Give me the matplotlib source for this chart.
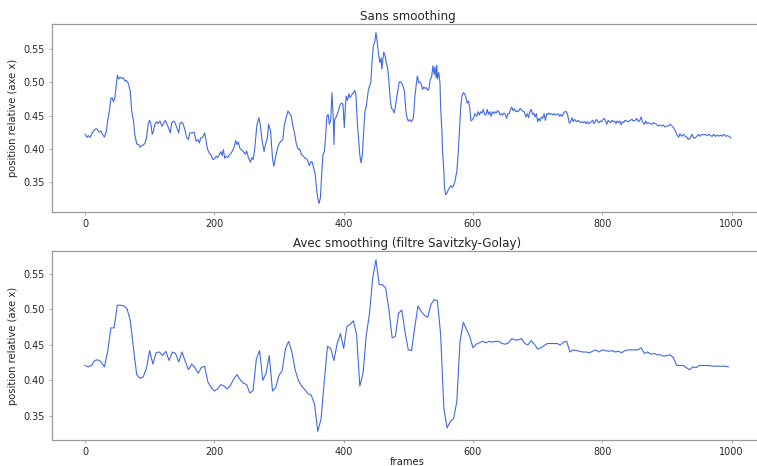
import matplotlib
matplotlib.use('Agg')
import matplotlib.pyplot as plt

# position x brute, frame par frame (relevé approximatif)
frames_raw = [0, 3, 5, 8, 10, 13, 16, 19, 22, 25, 27, 30, 33, 35, 38, 40, 42, 44, 46, 48,
              50, 52, 54, 57, 59, 62, 64, 67, 70, 72, 75, 77, 80, 83, 85, 88, 90, 93, 95, 98,
              100, 102, 104, 106, 108, 111, 113, 116, 119, 121, 124, 126, 129, 132, 134, 137, 139, 142, 145, 147,
              150, 152, 155, 157, 160, 162, 165, 169, 172, 175, 177, 179, 182, 185, 187, 189, 192, 195, 198, 200,
              203, 205, 208, 210, 212, 214, 216, 218, 221, 223, 226, 228, 231, 233, 235, 237, 240, 242, 245, 248,
              250, 253, 256, 258, 260, 262, 264, 266, 269, 271, 274, 277, 279, 282, 284, 287, 290, 292, 295, 298,
              300, 303, 306, 308, 311, 314, 316, 319, 321, 324, 327, 330, 332, 335, 338, 340, 343, 345, 347, 349,
              351, 353, 355, 356, 358, 360, 362, 364, 366, 368, 370, 372, 374, 376, 378, 380, 382, 384, 385, 386,
              388, 391, 393, 395, 397, 399, 401, 403, 404, 406, 408, 410, 413, 415, 417, 419, 421, 423, 425, 427,
              429, 431, 433, 435, 438, 440, 442, 444, 446, 448, 450, 452, 454, 456, 458, 459, 462, 464, 466, 468,
              470, 472, 474, 476, 478, 480, 482, 484, 486, 488, 491, 494, 496, 498, 500, 502, 505, 508, 510, 512,
              514, 516, 518, 520, 522, 524, 526, 528, 530, 532, 534, 536, 538, 540, 541, 543, 544, 545, 547, 549,
              550, 552, 553, 555, 556, 558, 560, 562, 564, 566, 568, 570, 572, 575, 577, 579, 581, 583, 585, 587,
              589, 591, 593, 595, 597, 599, 601, 603, 606, 608, 610, 612, 614, 616, 618, 620, 622, 624, 626, 628,
              630, 632, 634, 636, 638, 640, 642, 644, 646, 648, 650, 652, 654, 656, 658, 660, 662, 664, 666, 668,
              670, 673, 676, 679, 682, 684, 686, 688, 690, 692, 694, 696, 698, 700, 702, 704, 706, 708, 710, 712,
              714, 716, 718, 720, 722, 724, 726, 728, 730, 732, 734, 736, 738, 740, 742, 744, 746, 749, 751, 753,
              755, 757, 759, 761, 763, 765, 767, 769, 771, 773, 775, 777, 779, 781, 783, 785, 787, 789, 791, 793,
              795, 797, 799, 801, 803, 805, 807, 809, 811, 813, 815, 817, 819, 821, 823, 825, 827, 829, 831, 833,
              835, 837, 840, 843, 846, 848, 851, 853, 856, 858, 860, 862, 865, 867, 869, 871, 874, 877, 879, 882,
              884, 887, 889, 892, 894, 897, 900, 902, 905, 908, 910, 913, 915, 918, 920, 923, 926, 928, 931, 933,
              936, 939, 941, 944, 946, 949, 951, 954, 957, 959, 962, 965, 967, 970, 972, 975, 978, 980, 983, 985,
              988, 991, 993, 996, 999]
pos_raw = [.422, .4175, .420, .4175, .422, .4266, .430, .430, .425, .427, .422, .418, .426, .442, .459, .476, .477, .471, .476, .492,
           .511, .505, .508, .506, .507, .502, .503, .4986, .487, .459, .442, .422, .4075, .4065, .4025, .4055, .4055, .409, .4165, .439,
           .443, .437, .422, .427, .437, .441, .438, .442, .434, .437, .443, .439, .432, .424, .439, .442, .440, .432, .424, .439,
           .440, .437, .427, .418, .414, .424, .424, .425, .4115, .414, .409, .4165, .4175, .424, .414, .4015, .394, .3905, .384, .385,
           .389, .387, .392, .396, .390, .399, .386, .389, .387, .391, .394, .397, .404, .4125, .4065, .4105, .400, .399, .396, .392,
           .397, .386, .380, .387, .384, .396, .4165, .437, .447, .437, .4115, .396, .4065, .4165, .437, .427, .386, .374, .389, .4015,
           .4075, .4115, .414, .434, .447, .457, .454, .449, .437, .424, .4065, .399, .400, .391, .389, .386, .385, .381, .375, .380,
           .381, .374, .366, .362, .341, .326, .318, .326, .361, .3915, .395, .4165, .449, .452, .437, .444, .4845, .445, .4065, .444,
           .447, .454, .462, .467, .469, .467, .432, .469, .4795, .473, .483, .477, .482, .4845, .488, .482, .442, .4165, .391, .379,
           .391, .427, .457, .464, .487, .4946, .4996, .532, .555, .560, .575, .560, .5425, .530, .537, .520, .5455, .5405, .529, .5225,
           .5025, .475, .461, .4595, .454, .463, .477, .4895, .501, .501, .497, .487, .4595, .447, .442, .444, .441, .447, .477, .4946,
           .5097, .4996, .501, .497, .4895, .493, .491, .492, .488, .491, .505, .5075, .5248, .512, .5235, .5075, .526, .505, .515, .4996,
           .462, .427, .396, .366, .341, .331, .334, .339, .342, .345, .342, .345, .351, .366, .391, .427, .462, .4795, .4845, .483,
           .478, .469, .472, .462, .442, .444, .447, .453, .449, .456, .451, .456, .454, .4595, .452, .451, .4595, .452, .456, .449,
           .456, .453, .456, .454, .4575, .456, .451, .453, .451, .454, .452, .446, .453, .453, .4595, .463, .4575, .4605, .456, .4575,
           .456, .461, .4575, .456, .448, .453, .447, .456, .4595, .452, .454, .448, .453, .441, .446, .442, .448, .446, .453, .443,
           .453, .452, .454, .452, .453, .451, .453, .451, .452, .453, .449, .452, .449, .454, .456, .456, .453, .4385, .441, .447,
           .441, .4445, .442, .441, .443, .441, .4395, .441, .4395, .441, .438, .441, .438, .4395, .441, .443, .438, .441, .4445, .441,
           .4395, .442, .441, .4445, .446, .442, .437, .443, .441, .4395, .443, .441, .442, .438, .442, .4395, .442, .436, .441, .4395,
           .443, .442, .441, .443, .4445, .442, .443, .446, .441, .443, .448, .441, .437, .442, .438, .4395, .438, .437, .4395, .438,
           .437, .4345, .436, .4345, .436, .433, .4345, .4345, .437, .4345, .432, .427, .422, .4175, .423, .419, .422, .419, .4175, .414,
           .4165, .422, .4165, .4165, .419, .422, .419, .422, .421, .422, .420, .422, .420, .419, .422, .419, .421, .419, .421, .419,
           .422, .419, .420, .419, .4165]

# même signal après filtre Savitzky-Golay, un point toutes les 5 frames
frames_smooth = list(range(0, 1000, 5))
pos_smooth = [.421, .419, .421, .428, .429, .426, .419, .440, .474, .474,
              .506, .506, .505, .501, .485, .445, .408, .403, .405, .417,
              .442, .423, .439, .440, .435, .441, .428, .440, .438, .426,
              .440, .427, .415, .423, .418, .410, .418, .420, .398, .390,
              .385, .388, .394, .392, .388, .393, .402, .408, .401, .396,
              .394, .382, .386, .430, .442, .400, .410, .435, .385, .390,
              .407, .414, .445, .455, .440, .415, .400, .392, .387, .381,
              .379, .366, .328, .345, .398, .448, .445, .428, .452, .466,
              .445, .476, .479, .484, .465, .392, .410, .464, .494, .545,
              .570, .535, .535, .530, .500, .460, .462, .495, .499, .468,
              .443, .442, .475, .505, .497, .492, .489, .507, .514, .512,
              .465, .360, .333, .342, .346, .370, .455, .482, .472, .462,
              .446, .451, .453, .455, .453, .455, .454, .455, .455, .452,
              .451, .453, .459, .457, .457, .459, .452, .450, .456, .451,
              .444, .446, .449, .452, .452, .452, .452, .450, .454, .455,
              .440, .443, .442, .441, .440, .440, .439, .441, .443, .440,
              .443, .442, .441, .442, .440, .441, .439, .442, .443, .443,
              .443, .443, .446, .438, .440, .437, .438, .436, .436, .434,
              .435, .436, .432, .421, .421, .421, .418, .415, .419, .418,
              .421, .421, .421, .421, .420, .420, .420, .420, .420, .419]

plt.rcParams['font.family'] = 'DejaVu Sans'
line_color = '#4169e1'
spine_color = '#999999'
text_color = '#262626'

fig = plt.figure(figsize=(7.57, 4.66), dpi=100)
# les axes dépassent à droite de la figure : pas de bord droit visible
ax1 = fig.add_axes([0.0687, 0.545, 0.9815, 0.4035])
ax2 = fig.add_axes([0.0687, 0.0558, 0.9815, 0.405])

series = [(ax1, frames_raw, pos_raw, 'Sans smoothing'),
          (ax2, frames_smooth, pos_smooth, 'Avec smoothing (filtre Savitzky-Golay)')]

for ax, x, y, title in series:
    ax.plot(x, y, color=line_color, linewidth=0.8)
    ax.set_title(title, fontsize=8.6, color=text_color, pad=3, x=0.4785)
    ax.set_ylabel('position relative (axe x)', fontsize=7.2, color=text_color, labelpad=4)
    ax.set_xlim(-51, 1098)
    ax.set_xticks([0, 200, 400, 600, 800, 1000])
    ax.set_yticks([0.35, 0.40, 0.45, 0.50, 0.55])
    ax.set_yticklabels(['0.35', '0.40', '0.45', '0.50', '0.55'])
    ax.tick_params(labelsize=6.9, colors=text_color, length=2, width=0.6, pad=3)
    ax.tick_params(axis='both', color=spine_color)
    ax.spines['right'].set_visible(False)
    for side in ['left', 'top', 'bottom']:
        ax.spines[side].set_color(spine_color)
        ax.spines[side].set_linewidth(0.9)

ax2.set_xlabel('frames', fontsize=7.2, color=text_color, labelpad=0, x=0.4785)

fig.savefig('out.png', dpi=100)
